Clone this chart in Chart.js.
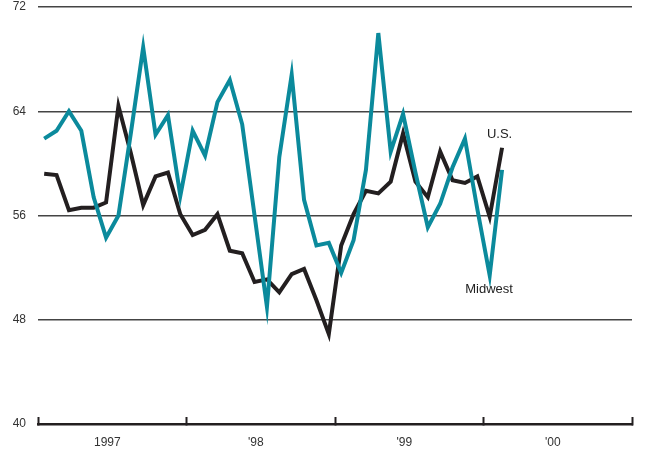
<!DOCTYPE html>
<html>
<head>
<meta charset="utf-8">
<script src="https://cdn.jsdelivr.net/npm/chart.js@4/dist/chart.umd.min.js"></script>
<style>
  html, body { margin: 0; padding: 0; background: #fff; }
  #wrap { width: 649px; height: 458px; }
</style>
</head>
<body>
<div id="wrap"><canvas id="chart"></canvas></div>
<script>
// monthly, Jan 1997 - Feb 2000
const yearLabels = ['1997', "'98", "'99", "'00"];
const yTicks = [40, 48, 56, 64, 72];

const us = [59.2, 59.1, 56.4, 56.6, 56.6, 57.0, 64.4, 60.8, 56.8, 59.0,
            59.3, 56.1, 54.5, 54.9, 56.1, 53.3, 53.1, 50.9, 51.1, 50.1,
            51.5, 51.9, 49.5, 46.9, 53.7, 56.1, 57.9, 57.7, 58.6, 62.3,
            58.6, 57.4, 60.9, 58.7, 58.5, 59.0, 55.9, 61.2];

const midwest = [61.9, 62.5, 64.0, 62.5, 57.4, 54.3, 56.0, 62.3, 68.9, 62.2,
                 63.7, 57.5, 62.5, 60.6, 64.7, 66.4, 63.0, 56.0, 49.0, 60.5,
                 66.8, 57.2, 53.7, 53.9, 51.6, 54.1, 59.5, 70.0, 60.9, 63.8,
                 59.3, 55.1, 56.9, 59.7, 61.9, 56.5, 51.4, 59.5];

// series name tags: [text, month position, value]
const tags = [['U.S.', 37.3, 62.2], ['Midwest', 36.45, 50.3]];

const toPoints = arr => arr.map((v, i) => ({ x: i + 0.5, y: v }));

// tick positions: year boundaries (marks) and year labels (text)
const boundaries = [0, 12, 24, 36, 48];
const labelPos = [5.6, 17.6, 29.6, 41.6];

const tagPlugin = {
  id: 'tags',
  afterDatasetsDraw(chart) {
    const { ctx, scales } = chart;
    ctx.save();
    ctx.font = '13px "Liberation Sans", Arial, sans-serif';
    ctx.fillStyle = '#222';
    ctx.textAlign = 'center';
    ctx.textBaseline = 'middle';
    tags.forEach(t => {
      ctx.fillText(t[0], scales.x.getPixelForValue(t[1]), scales.y.getPixelForValue(t[2]));
    });
    ctx.restore();
  }
};

const config = {
  type: 'line',
  data: {
    datasets: [{
      label: 'Midwest',
      data: toPoints(midwest),
      borderColor: '#0b8a9c',
      borderWidth: 4,
      pointRadius: 0,
      tension: 0,
      borderJoinStyle: 'miter'
    }, {
      label: 'U.S.',
      data: toPoints(us),
      borderColor: '#231f20',
      borderWidth: 4,
      pointRadius: 0,
      tension: 0,
      borderJoinStyle: 'miter'
    }]
  },
  options: {
    responsive: true,
    maintainAspectRatio: false,
    animation: false,
    layout: { padding: { top: 7, right: 17, left: 0, bottom: 0 } },
    plugins: {
      legend: { display: false },
      tooltip: { enabled: false }
    },
    scales: {
      x: {
        type: 'linear',
        min: 0,
        max: 48,
        afterBuildTicks: s => {
          s.ticks = boundaries.concat(labelPos).sort((a, b) => a - b).map(v => ({ value: v }));
        },
        afterFit: s => { s.height = 34; s.paddingLeft = 0; s.paddingRight = 0; },
        border: { display: true, color: '#231f20', width: 2.5 },
        grid: {
          drawOnChartArea: false,
          tickLength: -7,
          tickWidth: 2,
          tickColor: c => boundaries.includes(c.tick.value) ? '#231f20' : 'rgba(0,0,0,0)'
        },
        ticks: {
          autoSkip: false,
          maxRotation: 0,
          padding: 18,
          color: '#333',
          font: { family: '"Liberation Sans", Arial, sans-serif', size: 12 },
          callback: v => {
            const k = labelPos.indexOf(v);
            return k >= 0 ? yearLabels[k] : '';
          }
        }
      },
      y: {
        min: 40,
        max: 72,
        afterBuildTicks: s => { s.ticks = yTicks.map(v => ({ value: v })); },
        afterFit: s => { s.width = 38; s.paddingTop = 0; s.paddingBottom = 0; },
        border: { display: false },
        grid: {
          drawTicks: false,
          color: c => c.tick.value === 40 ? 'rgba(0,0,0,0)' : '#444',
          lineWidth: 1.5
        },
        ticks: {
          padding: 12,
          color: '#333',
          font: { family: '"Liberation Sans", Arial, sans-serif', size: 12 }
        }
      }
    }
  },
  plugins: [tagPlugin]
};

new Chart(document.getElementById('chart'), config);
</script>
</body>
</html>
